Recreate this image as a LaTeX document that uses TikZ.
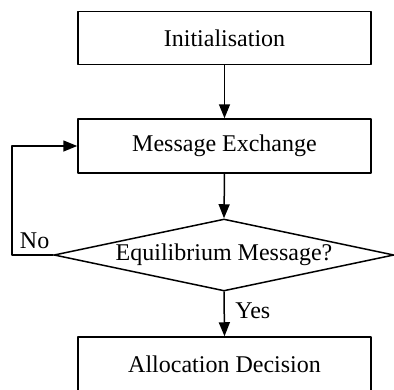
\documentclass[tikz,border=0pt]{standalone}
\usepackage{fontspec}
\setmainfont{Liberation Serif}
\usetikzlibrary{shapes.geometric,arrows.meta}

\tikzset{
  stepbox/.style={draw,rectangle,minimum width=293pt,minimum height=53pt,inner sep=0pt},
  testbox/.style={draw,diamond,aspect=4.7,minimum width=340pt,minimum height=72pt,inner sep=0pt},
  flow/.style={-{Triangle[length=14pt,width=11pt]}}
}

\begin{document}
\begin{tikzpicture}[x=1pt,y=-1pt,line width=1.5pt,line cap=round,line join=round,font=\fontsize{24}{28}\selectfont]
\useasboundingbox (0,0) rectangle (394,389);
\node[stepbox] (init) at (224.5,38) {Initialisation};
\node[stepbox,minimum height=54pt] (msg) at (224.5,146) {Message Exchange};
\node[testbox] (equil) at (224,255) {Equilibrium Message?};
\node[stepbox,minimum height=54pt] (alloc) at (224.5,364) {Allocation Decision};
\coordinate (bend) at (12,255);
\draw[flow] (init.south) -- (msg.north);
\draw[flow] (msg.south) -- (equil.north);
\draw[flow] (equil.south) -- node[right,xshift=7pt,yshift=3pt] {Yes} (alloc.north);
\draw[flow] (equil.west) -- node[above,xshift=2pt,yshift=2pt] {No} (bend) |- (msg.west);
\end{tikzpicture}
\end{document}
